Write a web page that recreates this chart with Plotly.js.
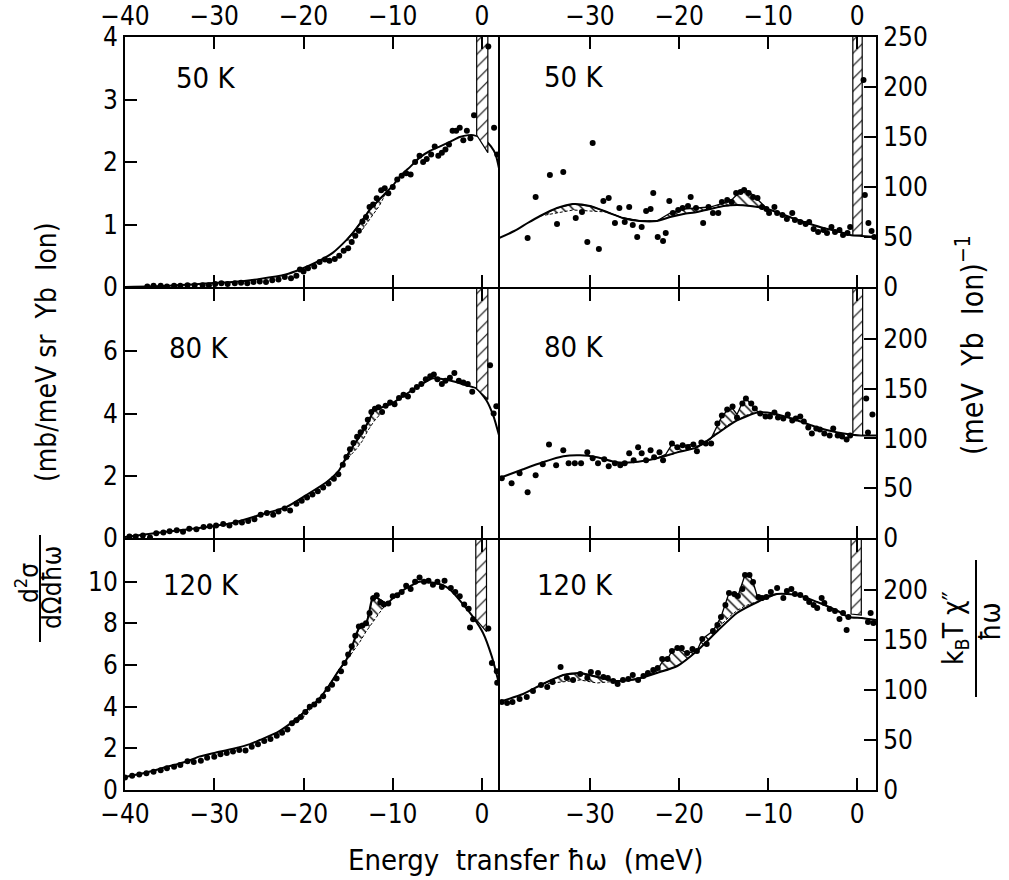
<!DOCTYPE html>
<html><head><meta charset="utf-8">
<script src="https://cdn.plot.ly/plotly-3.0.1.min.js"></script>
<style>body{margin:0;background:#fff}#chart{width:1009px;height:880px}</style>
</head><body><div id="chart"></div>
<script>
// ---------------- DATA ----------------
const leftTicks = [-40, -30, -20, -10, 0];
const rightTicks = [-30, -20, -10, 0];
const panelLabels = ['50 K', '80 K', '120 K'];
const leftYTicks = [[0, 1, 2, 3, 4], [0, 2, 4, 6], [0, 2, 4, 6, 8, 10]];
const rightYTicks = [[0, 50, 100, 150, 200, 250], [0, 50, 100, 150, 200], [0, 50, 100, 150, 200]];

// 50 K, d2sigma (left)
const tlDataX = [-37.5,-36.8,-36,-35.3,-34.5,-33.8,-33,-32.2,-31.3,-30.6,-29.9,-29.2,-28.5,-27.7,-27,-26.3,-25.6,-24.9,-24.2,-23.5,-22.8,-22.1,-21.4,-20.8,-20.4,-20,-19.5,-18.8,-18.2,-17.6,-17.1,-16.5,-16,-15.5,-15,-14.6,-14.2,-13.8,-13.4,-13,-12.6,-12.2,-11.8,-11.3,-10.9,-10.5,-10,-9.5,-9,-8.5,-8,-7.5,-7,-6.6,-6.2,-5.7,-5.3,-4.9,-4.5,-4.1,-3.7,-3.3,-2.9,-2.5,-2.1,-1.7,-1.3,-0.9,0.7,1.35,1.7];
const tlDataY = [0.01,0.02,0.02,0.01,0.02,0.02,0.03,0.03,0.03,0.03,0.05,0.06,0.05,0.06,0.07,0.06,0.08,0.09,0.08,0.11,0.12,0.16,0.14,0.18,0.28,0.25,0.3,0.33,0.4,0.44,0.42,0.45,0.5,0.58,0.62,0.72,0.82,0.9,1.05,1.12,1.28,1.32,1.42,1.55,1.58,1.5,1.6,1.72,1.78,1.82,1.8,2.0,2.1,2.0,2.05,2.12,2.25,2.1,2.15,2.2,2.28,2.5,2.5,2.55,2.35,2.5,2.38,2.75,3.85,2.55,2.12];
const tlCurveX = [-40,-35,-31.7,-28,-24.9,-22,-20.4,-18.5,-16.7,-15.2,-14.5,-13.5,-12.5,-11.5,-10.7,-10,-9.2,-8,-7,-5.8,-4.7,-3.5,-2.5,-1.5,-1,0,0.5,1,1.5,1.9];
const tlCurveY = [0,0.02,0.05,0.08,0.13,0.2,0.28,0.4,0.55,0.75,0.86,1.05,1.25,1.4,1.52,1.62,1.77,1.93,2.07,2.18,2.25,2.33,2.4,2.43,2.43,2.38,2.33,2.25,2.13,1.9];
const tlHatchX = [-15.2,-14.5,-13.5,-12.5,-11.5,-10.7];
const tlHatchHi = [0.75,0.86,1.05,1.25,1.4,1.52];
const tlHatchLo = [0.75,0.76,0.9,1.1,1.3,1.52];
const tlElasticX = [-0.6, 0.65];
const tlElasticBottom = [2.43, 2.15];

// 80 K, d2sigma (left)
const mlDataX = [-39.5,-38.8,-38,-37.2,-36.5,-35.7,-35,-34.2,-33.5,-32.8,-32,-31.2,-30.5,-29.8,-29,-28.3,-27.6,-26.9,-26.2,-25.5,-24.8,-24.1,-23.4,-22.8,-22.1,-21.5,-20.8,-20.2,-19.6,-19,-18.4,-17.8,-17.2,-16.6,-16.1,-15.6,-15.2,-14.8,-14.4,-14,-13.6,-13.2,-12.8,-12.4,-12,-11.6,-11.2,-10.8,-10.3,-9.8,-9.3,-8.8,-8.3,-7.8,-7.3,-6.8,-6.3,-5.8,-5.4,-5,-4.5,-4.1,-3.6,-3.1,-2.6,-2.1,-1.6,-1.1,0.9,1.3,1.6];
const mlDataY = [0.05,0.05,0.08,0.02,0.15,0.18,0.22,0.25,0.2,0.3,0.28,0.35,0.38,0.4,0.45,0.4,0.5,0.5,0.55,0.6,0.75,0.8,0.75,0.85,0.95,0.88,1.1,1.2,1.3,1.4,1.5,1.62,1.75,1.9,2.05,2.35,2.6,2.85,3.05,3.25,3.4,3.55,3.8,4.05,4.15,4.2,4.05,4.25,4.35,4.3,4.5,4.6,4.55,4.75,4.85,4.95,5.1,5.2,5.25,5.1,4.95,5.05,5.15,5.3,5.05,5.0,4.95,4.7,5.55,4.0,4.23];
const mlCurveX = [-40,-35.4,-31.7,-28,-24.9,-21.9,-19.7,-17.4,-16,-15.4,-14.8,-14.1,-13.4,-12.8,-12.1,-11.2,-10.2,-9.2,-7,-5.5,-3.6,-1.7,-0.6,0.5,1.3,1.9];
const mlCurveY = [0.03,0.2,0.32,0.48,0.74,1.0,1.38,1.8,2.18,2.5,2.8,3.1,3.4,3.7,4.1,4.2,4.3,4.49,4.9,5.13,5.06,4.9,4.8,4.42,3.9,3.3];
const mlHatchX = [-15.4,-14.8,-14.1,-13.4,-12.8,-12.1,-11.2];
const mlHatchHi = [2.5,2.8,3.1,3.4,3.7,4.1,4.2];
const mlHatchLo = [2.45,2.62,2.85,3.12,3.45,3.75,4.05];
const mlElasticX = [-0.6, 0.65];
const mlElasticBottom = [4.8, 4.45];

// 120 K, d2sigma (left)
const blDataX = [-40,-39.2,-38.4,-37.6,-36.8,-36,-35.3,-34.5,-33.8,-33,-32.3,-31.5,-30.8,-30,-29.3,-28.6,-27.9,-27.2,-26.5,-25.8,-25.1,-24.4,-23.7,-23,-22.4,-21.8,-21.3,-20.8,-20.3,-19.8,-19.3,-18.8,-18.3,-17.8,-17.3,-16.8,-16.3,-15.8,-15.4,-15,-14.6,-14.2,-13.8,-13.4,-13,-12.6,-12.2,-11.8,-11.4,-11,-10.5,-10,-9.5,-9,-8.5,-8,-7.5,-7,-6.5,-6,-5.5,-5,-4.5,-4.2,-3.5,-3,-2.5,-2,-1.5,-1.35,-1,0.7,1.1,1.65,1.7];
const blDataY = [0.6,0.68,0.75,0.8,0.88,0.95,1.05,1.12,1.2,1.38,1.35,1.4,1.55,1.6,1.72,1.78,1.85,1.92,1.9,2.08,2.2,2.35,2.45,2.6,2.75,2.9,3.2,3.35,3.5,3.75,4.0,4.1,4.3,4.5,4.85,5.05,5.35,5.7,6.1,6.5,6.9,7.4,7.85,7.9,8.0,8.5,9.2,9.35,9.0,8.9,8.95,9.3,9.35,9.5,9.8,9.65,10.0,10.2,10.0,10.05,9.85,10.0,9.75,10.05,9.7,9.5,9.3,8.9,8.7,7.8,8.2,7.75,6.1,5.7,5.15];
const blCurveX = [-40,-37.5,-35.4,-33,-31.7,-30,-28,-26,-24.9,-23,-21.6,-21,-20.3,-19.6,-19,-18,-17,-16,-15.2,-14.5,-13.7,-13,-12.2,-11.5,-10.7,-10,-9,-8,-7,-5.5,-4.5,-3.6,-2.1,-1,0.1,1.1,1.9];
const blCurveY = [0.62,0.85,1.1,1.38,1.6,1.78,1.97,2.2,2.4,2.75,3.15,3.35,3.6,3.85,4.05,4.5,5.1,5.77,6.25,6.97,7.85,7.95,9.3,9.15,8.95,9.2,9.55,9.8,10.0,9.95,9.85,9.62,8.9,8.3,7.55,6.4,5.1];
const blHatchX = [-21.6,-21,-20.3,-19.6,-19,-18,-17,-16,-15.2,-14.5,-13.7,-13,-12.2,-11.5,-10.7];
const blHatchHi = [3.15,3.35,3.6,3.85,4.05,4.5,5.1,5.77,6.25,6.97,7.85,7.95,9.3,9.15,8.95];
const blHatchLo = [3.15,3.2,3.4,3.65,4.05,4.5,5.1,5.77,6.2,6.6,7.1,7.6,8.1,8.5,8.95];
const blElasticX = [-0.7, 0.5];
const blElasticBottom = [8.2, 7.6];

// 50 K, kT chi''/hw (right)
const trDataX = [-37,-36.1,-34.5,-33.7,-33,-31.6,-30.9,-30.3,-29.7,-29,-28.5,-27.9,-27.2,-26.7,-26.1,-25.6,-25.2,-24.7,-24.2,-23.7,-23.2,-22.9,-22.4,-21.8,-21.5,-21.1,-20.7,-20.1,-19.6,-19,-18.7,-18.1,-17.3,-16.7,-16.2,-15.6,-15.2,-14.6,-14.1,-13.6,-13.1,-12.7,-12.2,-11.7,-11.2,-10.7,-10.2,-9.9,-9.3,-9,-8.4,-7.9,-7.3,-7,-6.4,-5.8,-5.4,-4.9,-4.4,-3.8,-3.4,-2.9,-2.5,-2,-1.6,-1.1,-0.8,0.7,0.85,1.25,1.6,1.9];
const trDataY = [49,90,112,63,115,69,75,45,144,38,86,89,64,79,65,80,62,50,60,76,78,94,50,46,54,86,74,77,79,81,90,79,64,80,74,74,85,87,85,94,95,97,94,90,89,80,78,74,80,74,72,68,74,67,65,63,65,58,55,57,54,60,55,57,52,54,60,207,92,64,56,50];
const trCurveX = [-40.2,-38.5,-37,-35.6,-33.7,-31.9,-30,-28.1,-26.3,-24.4,-22.5,-21,-19.5,-18,-16.5,-15,-13.5,-12,-10.1,-8.5,-7,-5.3,-3.8,-1.9,-0.8,0.5,2.1];
const trCurveY = [49,56,64,71,79,83,81,75,69,66,66,70,73,75,78,81,82,81,78,73,68,63,59,55,52,51,50];
const trHatchX = [-35.6,-33.7,-31.9,-30,-28.1,-26.3,-24.4,-22.5,-21,-19.5,-18,-16.5,-15,-14,-13.2,-12.5,-11.7,-11,-10.1];
const trHatchHi = [71,79,83,81,75,69,66,66,74,78,79,80,84,88,95,97,92,86,78];
const trHatchLo = [71,74,77,76,75,69,66,66,70,73,75,78,81,81.5,82,81.5,81,80,78];
const trElasticX = [-0.5, 0.55];
const trElasticBottom = [52, 52];

// 80 K, kT chi''/hw (right)
const mrDataX = [-39.9,-38.8,-37.9,-37,-36.1,-35.3,-34.6,-33.8,-33,-32.4,-31.7,-31,-30.3,-29.7,-29.1,-28.4,-27.9,-27.2,-26.6,-26.1,-25.6,-25.1,-24.6,-24.2,-23.7,-23.2,-22.8,-22.2,-21.8,-20.8,-20.2,-19.6,-19,-18.4,-18,-17.5,-17,-16.4,-15.7,-15.2,-14.6,-14,-13.5,-12.9,-12.5,-11.9,-11.5,-10.9,-10.3,-9.8,-9.3,-8.9,-8.3,-7.8,-7.3,-6.9,-6.4,-6,-5.5,-5.1,-4.6,-4.2,-3.7,-3.1,-2.7,-2.2,-1.7,-1.2,-0.8,1.0,1.2,1.7];
const mrDataY = [60,55,65,46,63,74,94,73,88,75,75,75,86,80,75,79,72,75,73,75,85,78,91,85,78,88,81,86,78,95,91,93,91,94,87,96,95,95,115,123,129,132,121,135,140,135,130,125,122,122,126,121,120,124,118,120,122,117,111,105,110,109,105,103,110,103,102,99,103,140,106,124];
const mrCurveX = [-40.2,-37.5,-35.3,-33,-31.1,-29.2,-27,-25.2,-22.5,-20.2,-18,-15.7,-13.5,-11.2,-9.4,-6.7,-4.5,-2.2,-0.8,0.5,2.1];
const mrCurveY = [60,69,76,82,83,81,76,76,80,86,91,105,118,126,125,118,111,106,104,103,103];
const mrHatchX = [-22.5,-21.5,-20.8,-20.2,-19.5,-18.5,-18,-17,-16.4,-15.7,-15.2,-14.6,-14,-13.5,-12.9,-12.5,-11.9,-11.2,-10.3];
const mrHatchHi = [80,84,94,92,93,94,92,96,100,112,122,128,130,124,136,140,134,127,123];
const mrHatchLo = [80,82,84,86,88,90,91,96,100,105,109,113,116,118,121,123,125,126,123];
const mrElasticX = [-0.5, 0.6];
const mrElasticBottom = [104, 103];

// 120 K, kT chi''/hw (right)
const brDataX = [-39.9,-39.3,-38.7,-37.9,-37.1,-36.4,-35.5,-34.8,-34.2,-33.3,-32.6,-31.9,-31.1,-30.3,-29.9,-29.1,-28.5,-28,-27.4,-26.9,-26.3,-25.7,-25.2,-24.6,-24,-23.5,-22.9,-22.4,-21.9,-21.3,-20.8,-20.2,-19.7,-19.1,-18.5,-18,-17.4,-16.9,-16.2,-15.7,-15.3,-14.8,-14.4,-13.8,-13.4,-12.9,-12.6,-12.1,-11.7,-11.1,-10.7,-10.2,-9.7,-9,-8.3,-7.9,-7.4,-7,-6.4,-5.8,-5.4,-4.9,-4.5,-4,-3.7,-3.1,-2.5,-2,-1.6,-1.2,-1,1.2,1.5,1.8];
const brDataY = [88,87,88,91,93,99,105,103,108,123,112,110,116,112,118,117,113,112,109,106,110,111,115,110,114,117,120,122,131,131,139,142,142,137,141,139,151,146,159,165,173,185,197,196,194,201,215,215,208,193,192,193,198,202,192,199,201,196,195,192,188,185,182,192,187,181,179,171,177,160,173,168,177,167];
const brCurveX = [-40.2,-37.5,-35.3,-33,-31.1,-29.2,-27,-24.7,-22.5,-20.2,-18,-15.7,-13.5,-11.2,-9,-6.7,-4.5,-2.2,-1,0.5,2.1];
const brCurveY = [88,96,106,115,117,113,109,111,117,124,139,159,177,188,196,195,188,179,173,172,170];
const brHatchX = [-35.3,-33,-31.1,-29.2,-27,-24.7,-22.5,-21.9,-21.3,-20.8,-20.2,-19.1,-18,-17.4,-16.2,-15.3,-14.4,-13.4,-12.6,-12.1,-11.7,-11.2,-10.2,-9];
const brHatchHi = [106,115,117,113,109,111,119,128,131,139,142,137,139,151,159,173,197,194,215,215,208,193,194,196];
const brHatchLo = [106,108,110,107,109,111,117,119,120,122,124,131,139,144,154,165,173,180,184,186,187,188,192,196];
const brElasticX = [-0.7, 0.45];
const brElasticBottom = [176, 175];

// ---------------- LAYOUT / BUILD ----------------
const W = 1009, H = 880;
const fx = p => p / W, fy = p => 1 - p / H;
const FONT = 'DejaVu Sans Condensed, Liberation Sans Narrow, DejaVu Sans, sans-serif';
const colDom = [[fx(125), fx(499)], [fx(500), fx(876)]];
const rowDom = [[fy(287), fy(37)], [fy(538), fy(289)], [fy(790), fy(540)]];
const leftRanges = [[0, 4], [0, 8], [0, 12]];
const rightRange = [0, 250];
const NB = '\u00a0';

const panels = [
  {n: 1, col: 0, row: 0, dx: tlDataX, dy: tlDataY, cx: tlCurveX, cy: tlCurveY, hx: tlHatchX, hh: tlHatchHi, hl: tlHatchLo, ex: tlElasticX, eb: tlElasticBottom, lab: panelLabels[0], lx: -31, ly: 3.35},
  {n: 2, col: 0, row: 1, dx: mlDataX, dy: mlDataY, cx: mlCurveX, cy: mlCurveY, hx: mlHatchX, hh: mlHatchHi, hl: mlHatchLo, ex: mlElasticX, eb: mlElasticBottom, lab: panelLabels[1], lx: -31.8, ly: 6.1},
  {n: 3, col: 0, row: 2, dx: blDataX, dy: blDataY, cx: blCurveX, cy: blCurveY, hx: blHatchX, hh: blHatchHi, hl: blHatchLo, ex: blElasticX, eb: blElasticBottom, lab: panelLabels[2], lx: -31.5, ly: 9.85},
  {n: 4, col: 1, row: 0, dx: trDataX, dy: trDataY, cx: trCurveX, cy: trCurveY, hx: trHatchX, hh: trHatchHi, hl: trHatchLo, ex: trElasticX, eb: trElasticBottom, lab: panelLabels[0], lx: -31.8, ly: 210},
  {n: 5, col: 1, row: 1, dx: mrDataX, dy: mrDataY, cx: mrCurveX, cy: mrCurveY, hx: mrHatchX, hh: mrHatchHi, hl: mrHatchLo, ex: mrElasticX, eb: mrElasticBottom, lab: panelLabels[1], lx: -31.8, ly: 192},
  {n: 6, col: 1, row: 2, dx: brDataX, dy: brDataY, cx: brCurveX, cy: brCurveY, hx: brHatchX, hh: brHatchHi, hl: brHatchLo, ex: brElasticX, eb: brElasticBottom, lab: panelLabels[2], lx: -31.7, ly: 205}
];

const traces = [];
const layout = {
  width: W, height: H, margin: {l: 0, r: 0, t: 0, b: 0},
  paper_bgcolor: 'white', plot_bgcolor: 'rgba(0,0,0,0)',
  showlegend: false, font: {family: FONT, size: 26, color: 'black'},
  annotations: [], shapes: []
};

const axBase = {
  showline: true, linecolor: 'black', linewidth: 2, ticks: 'inside', ticklen: 12, tickwidth: 2,
  tickcolor: 'black', showgrid: false, zeroline: false, tickfont: {family: FONT, size: 26, color: 'black'}
};

panels.forEach(p => {
  const sfx = p.n === 1 ? '' : String(p.n);
  const xa = 'x' + sfx, ya = 'y' + sfx;
  const yMax = p.col === 0 ? leftRanges[p.row][1] : rightRange[1];
  const xr = p.col === 0 ? [-40, 1.9] : [-40.1, 2.1];
  layout['xaxis' + sfx] = Object.assign({}, axBase, {
    domain: colDom[p.col], anchor: ya, range: xr, mirror: 'ticks',
    tickmode: 'array', tickvals: p.col === 0 ? leftTicks : rightTicks,
    ticktext: (p.col === 0 ? leftTicks : rightTicks).map(v => v < 0 ? '\u2212' + Math.abs(v) : String(v)),
    side: p.row === 0 ? 'top' : 'bottom', showticklabels: p.row !== 1
  });
  layout['yaxis' + sfx] = Object.assign({}, axBase, {
    domain: rowDom[p.row], anchor: xa, range: p.col === 0 ? leftRanges[p.row] : rightRange,
    mirror: p.col === 1,
    tickmode: 'array', tickvals: p.col === 0 ? leftYTicks[p.row] : rightYTicks[p.row],
    side: p.col === 0 ? 'left' : 'right'
  });
  traces.push({x: p.hx, y: p.hl, xaxis: xa, yaxis: ya, type: 'scatter', mode: 'lines',
    line: {color: 'black', width: 1, dash: '3px,2px'}, hoverinfo: 'skip'});
  traces.push({x: p.hx, y: p.hh, xaxis: xa, yaxis: ya, type: 'scatter', mode: 'lines', fill: 'tonexty',
    fillcolor: 'rgba(255,255,255,0)',
    fillpattern: {shape: '\\', fgcolor: 'black', bgcolor: 'rgba(255,255,255,0)', size: 7, solidity: 0.2},
    line: {color: 'black', width: 1.3}, hoverinfo: 'skip'});
  traces.push({x: p.cx, y: p.cy, xaxis: xa, yaxis: ya, type: 'scatter', mode: 'lines',
    line: {color: 'black', width: 2, shape: 'spline', smoothing: 0.6}, hoverinfo: 'skip'});
  traces.push({x: [p.ex[0], p.ex[0], p.ex[1], p.ex[1], p.ex[0]], y: [yMax * 1.02, p.eb[0], p.eb[1], yMax * 1.02, yMax * 1.02],
    xaxis: xa, yaxis: ya, type: 'scatter', mode: 'lines', fill: 'toself', fillcolor: 'white',
    fillpattern: {shape: '/', fgcolor: 'black', bgcolor: 'white', size: 9, solidity: 0.12},
    line: {color: 'black', width: 1.2}, hoverinfo: 'skip'});
  traces.push({x: p.dx, y: p.dy, xaxis: xa, yaxis: ya, type: 'scatter', mode: 'markers',
    marker: {color: 'black', size: 6}, hoverinfo: 'skip'});
  layout.annotations.push({x: p.lx, y: p.ly, xref: xa, yref: ya, text: p.lab, showarrow: false,
    xanchor: 'center', yanchor: 'middle', font: {family: FONT, size: 29, color: 'black'}});
});

const ann = (x, y, text, size, angle) => layout.annotations.push({x: fx(x), y: fy(y), xref: 'paper', yref: 'paper',
  text: text, showarrow: false, textangle: angle, xanchor: 'center', yanchor: 'middle',
  font: {family: FONT, size: size, color: 'black'}});
ann(46, 352, '(mb/meV' + NB + 'sr' + NB + NB + 'Yb' + NB + NB + 'Ion)', 28, -90);
ann(27, 583, 'd<sup>2</sup>\u03c3', 26, -90);
ann(52, 588, 'd\u03a9d\u0127\u03c9', 26, -90);
ann(970, 345, '(meV' + NB + NB + 'Yb' + NB + NB + 'Ion)<sup>\u22121</sup>', 30, -90);
ann(955, 628, 'k<sub>B</sub>T' + NB + '\u03c7\u2033', 28, -90);
ann(990, 622, '\u0127\u03c9', 28, -90);
ann(525, 860, 'Energy' + NB + NB + 'transfer' + NB + '\u0127\u03c9' + NB + NB + '(meV)', 29, 0);
layout.shapes.push({type: 'line', xref: 'paper', yref: 'paper', x0: fx(40), x1: fx(40), y0: fy(535), y1: fy(642), line: {color: 'black', width: 2}});
layout.shapes.push({type: 'line', xref: 'paper', yref: 'paper', x0: fx(976), x1: fx(976), y0: fy(560), y1: fy(697), line: {color: 'black', width: 2}});

Plotly.newPlot('chart', traces, layout, {displayModeBar: false, staticPlot: true});
</script></body></html>
